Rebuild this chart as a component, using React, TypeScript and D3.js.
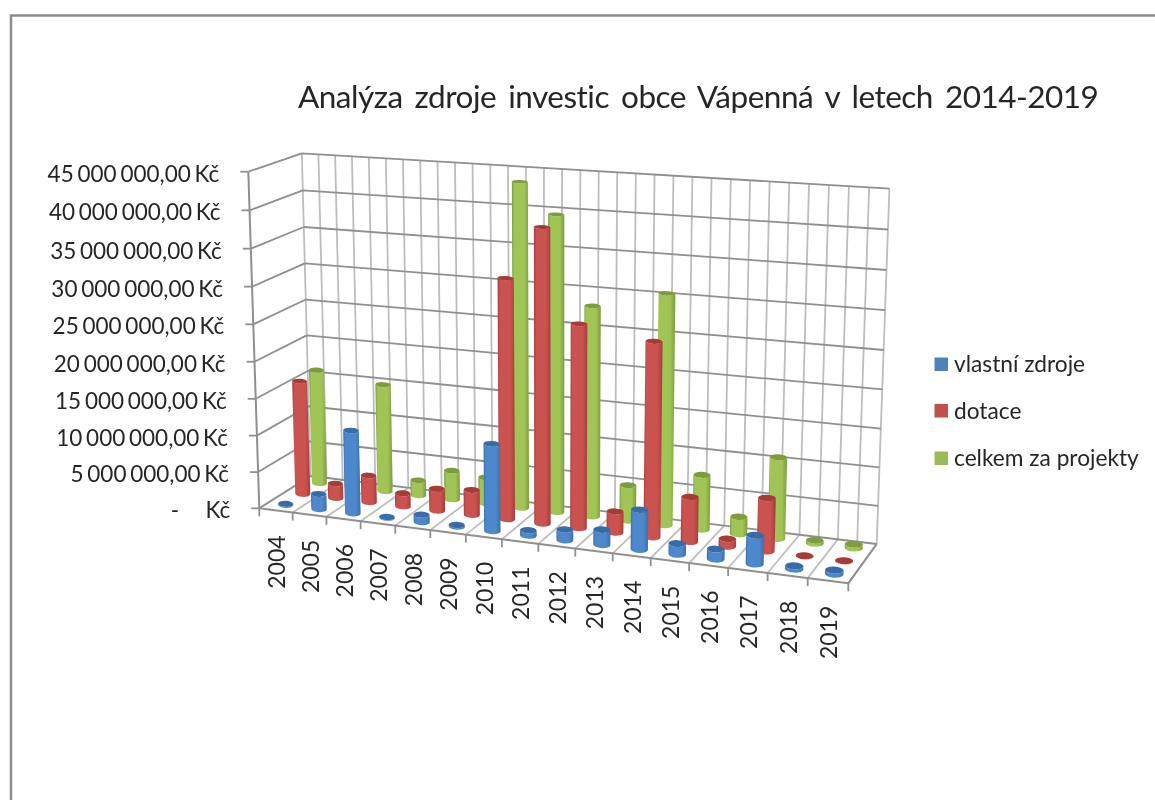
import React from "react";
import * as d3 from "d3";

const title = "Analýza zdroje investic obce Vápenná v letech 2014-2019";
const categories = ["2004","2005","2006","2007","2008","2009","2010","2011","2012","2013","2014","2015","2016","2017","2018","2019"];
const vlastni = [150000,2100000,11300000,100000,1000000,200000,11600000,700000,1400000,2000000,5200000,1400000,1300000,3700000,400000,500000];
const dotace = [15700000,2000000,3700000,1800000,3000000,3400000,32000000,38900000,26900000,2800000,25500000,5900000,1000000,6900000,20000,20000];
const celkem = [16000000,3500000,14900000,2100000,4000000,3600000,43500000,39600000,28100000,4800000,30500000,7300000,2300000,10700000,400000,500000];
const tickValues = [0,5000000,10000000,15000000,20000000,25000000,30000000,35000000,40000000,45000000];
const tickLabels = ["-\u00a0\u00a0\u00a0\u00a0\u00a0\u00a0\u00a0Kč","5 000 000,00 Kč","10 000 000,00 Kč","15 000 000,00 Kč","20 000 000,00 Kč","25 000 000,00 Kč","30 000 000,00 Kč","35 000 000,00 Kč","40 000 000,00 Kč","45 000 000,00 Kč"];
const seriesNames = ["vlastní zdroje","dotace","celkem za projekty"];

type P = [number, number];
// calibration of the perspective box
const D: P = [259.3, 508.3], FR: P = [848.3, 583.3], FT: P = [248.3, 171.7], BL: P = [310.5, 476], BR: P = [876.7, 544], BRT: P = [889.3, 192.3];
function solveCam() {
  const a1 = FR[0]-BR[0], c1 = BL[0]-BR[0], r1 = BR[0]+D[0]-FR[0]-BL[0];
  const a2 = FR[1]-BR[1], c2 = BL[1]-BR[1], r2 = BR[1]+D[1]-FR[1]-BL[1];
  const det = a1*c2-a2*c1;
  const a = (r1*c2-r2*c1)/det, c = (a1*r2-a2*r1)/det;
  const vx = FT[0]-BRT[0], vy = FT[1]-BRT[1];
  const rx = BRT[0]*(a+c+1)-FR[0]*(a+1)-FT[0]-BL[0]*(c+1)+2*D[0];
  const ry = BRT[1]*(a+c+1)-FR[1]*(a+1)-FT[1]-BL[1]*(c+1)+2*D[1];
  const b = (rx*vx+ry*vy)/(vx*vx+vy*vy);
  const A: P = [FR[0]*(a+1)-D[0], FR[1]*(a+1)-D[1]];
  const B: P = [FT[0]*(b+1)-D[0], FT[1]*(b+1)-D[1]];
  const C: P = [BL[0]*(c+1)-D[0], BL[1]*(c+1)-D[1]];
  return { a, b, c, A, B, C };
}
const cam = solveCam();
const project = (x: number, y: number, z: number): P => {
  const w = cam.a*x+cam.b*y+cam.c*z+1;
  return [(D[0]+cam.A[0]*x+cam.B[0]*y+cam.C[0]*z)/w, (D[1]+cam.A[1]*x+cam.B[1]*y+cam.C[1]*z)/w];
};

const xScale = d3.scaleLinear().domain([0, categories.length]).range([0, 1]);
const yScale = d3.scaleLinear().domain([0, 45000000]).range([0, 1]);
const zCenters = [1/6, 3/6, 5/6];
const halfBar = 0.23;
const halfDepth = 0.09;
const capTilt = 0.4;

const fills = [
  { edge: "#3d6fa8", mid: "#4d88cc", cap: "#376ca6", sw: "#4f81bd" },
  { edge: "#a53e3c", mid: "#cb5250", cap: "#a63b39", sw: "#c0504d" },
  { edge: "#7d9c3e", mid: "#a0c455", cap: "#7d9c3e", sw: "#9bbb59" },
];

function seg(a: P, b: P) {
  const p = d3.path(); p.moveTo(a[0], a[1]); p.lineTo(b[0], b[1]); return p.toString();
}

function Cylinder({ i, v, s }: { i: number; v: number; s: number }) {
  const z = zCenters[s];
  const c = i + 0.53;
  const y = yScale(v);
  const bc = project(xScale(c), 0, z), tc = project(xScale(c), y, z);
  const rx = (project(xScale(c + halfBar), 0, z)[0]-project(xScale(c - halfBar), 0, z)[0])/2;
  const tilt = Math.atan2(
    project(xScale(c + halfBar), 0, z)[1]-project(xScale(c - halfBar), 0, z)[1],
    rx*2)*capTilt;
  const dx = rx*Math.cos(tilt), dy = rx*Math.sin(tilt), rot = tilt*180/Math.PI;
  const bl: P = [bc[0]-dx, bc[1]-dy], br: P = [bc[0]+dx, bc[1]+dy];
  const tl: P = [tc[0]-dx, tc[1]-dy], tr: P = [tc[0]+dx, tc[1]+dy];
  const ryBottom = Math.abs(project(xScale(c), 0, z - halfDepth)[1]-project(xScale(c), 0, z + halfDepth)[1])/2;
  const ryTop = Math.abs(project(xScale(c), y, z - halfDepth)[1]-project(xScale(c), y, z + halfDepth)[1])/2;
  const body = `M${tl[0]},${tl[1]}L${bl[0]},${bl[1]}A${rx},${ryBottom} ${rot} 0 0 ${br[0]},${br[1]}L${tr[0]},${tr[1]}A${rx},${ryTop} ${rot} 0 1 ${tl[0]},${tl[1]}Z`;
  return (
    <g>
      <path d={body} fill={`url(#grad${s})`} />
      <ellipse cx={tc[0]} cy={tc[1]} rx={rx} ry={ryTop} transform={`rotate(${rot} ${tc[0]} ${tc[1]})`} fill={fills[s].cap} />
    </g>
  );
}

export default function App() {
  const values = [vlastni, dotace, celkem];
  const gridH = "#8f8f8f", gridV = "#bdbdbd";
  const textFill = "#262626";
  return (
    <svg width={1155} height={800} viewBox="0 0 1155 800" style={{ position: "absolute", left: 0, top: 0, background: "#fff" }}>
      <defs>
        {fills.map((f, s) => (
          <linearGradient key={s} id={`grad${s}`} x1="0" x2="1" y1="0" y2="0">
            <stop offset="0" stopColor={f.edge} />
            <stop offset="0.14" stopColor={f.mid} />
            <stop offset="0.72" stopColor={f.mid} />
            <stop offset="1" stopColor={f.edge} />
          </linearGradient>
        ))}
        <filter id="soft" filterUnits="userSpaceOnUse" x="0" y="0" width="1155" height="800">
          <feGaussianBlur stdDeviation="0.55" />
        </filter>
      </defs>
      <g filter="url(#soft)">
        <path d="M11,800V15.5H1155" fill="none" stroke="#8c8c8c" strokeWidth={2.5} />
        <text x={298} y={107.5} fontFamily="Lato" fontSize={31.5} letterSpacing={-0.5} wordSpacing={4.5} fill={textFill}>{title}</text>

        {/* back wall verticals */}
        {d3.range(0, 33).map(i => (
          <path key={i} d={seg(project(i/32, 0, 1), project(i/32, 1, 1))} stroke={gridV} strokeWidth={1.8} fill="none" />
        ))}
        {/* floor lines */}
        {d3.range(0, 17).map(i => (
          <path key={i} d={seg(project(i/16, 0, 0), project(i/16, 0, 1))} stroke={gridV} strokeWidth={1.8} fill="none" />
        ))}
        {/* value gridlines */}
        {tickValues.map(t => {
          const y = yScale(t);
          const a = project(0, y, 0), b = project(0, y, 1), c = project(1, y, 1);
          return <path key={t} d={`${seg(a, b)}${seg(b, c)}`} stroke={gridH} strokeWidth={1.8} fill="none" />;
        })}
        {/* axes */}
        <path d={seg(project(0,0,0), project(0,1,0))} stroke={gridH} strokeWidth={2} fill="none" />
        <path d={seg(project(0,0,0), project(1,0,0))} stroke={gridH} strokeWidth={2} fill="none" />
        <path d={seg(project(1,0,0), project(1,0,1))} stroke={gridH} strokeWidth={2} fill="none" />
        {tickValues.map(t => {
          const a = project(0, yScale(t), 0);
          return <path key={t} d={seg(a, [a[0]-8, a[1]])} stroke={gridH} strokeWidth={1.8} fill="none" />;
        })}
        {d3.range(0, 17).map(i => {
          const a = project(i/16, 0, 0);
          return <path key={i} d={seg(a, [a[0], a[1]+8])} stroke={gridH} strokeWidth={1.8} fill="none" />;
        })}

        {/* cylinders: back series first */}
        {[2, 1, 0].map(s => (
          <g key={s}>
            {values[s].map((v, i) => <Cylinder key={i} i={i} v={v} s={s} />)}
          </g>
        ))}

        {/* value labels */}
        {tickValues.map((t, k) => {
          const a = project(0, yScale(t), 0);
          return <text key={t} x={a[0]-29} y={a[1]+10} textAnchor="end" fontFamily="Lato" fontSize={22.5} wordSpacing={-2} fill={textFill}>{tickLabels[k]}</text>;
        })}
        {/* category labels */}
        {categories.map((c, i) => {
          const a = project(xScale(i+0.5), 0, 0);
          return <text key={c} transform={`translate(${a[0]+1},${a[1]+25}) rotate(-90)`} dy=".36em" textAnchor="end" fontFamily="Lato" fontSize={23} fill={textFill}>{c}</text>;
        })}
        {/* legend */}
        {seriesNames.map((n, k) => (
          <g key={n}>
            <rect x={934.5} y={[357.5,404,451.5][k]} width={13.5} height={13.5} fill={fills[k].sw} />
            <text x={954} y={[372,418.5,466][k]} fontFamily="Lato" fontSize={22.7} fill={textFill}>{n}</text>
          </g>
        ))}
      </g>
    </svg>
  );
}
